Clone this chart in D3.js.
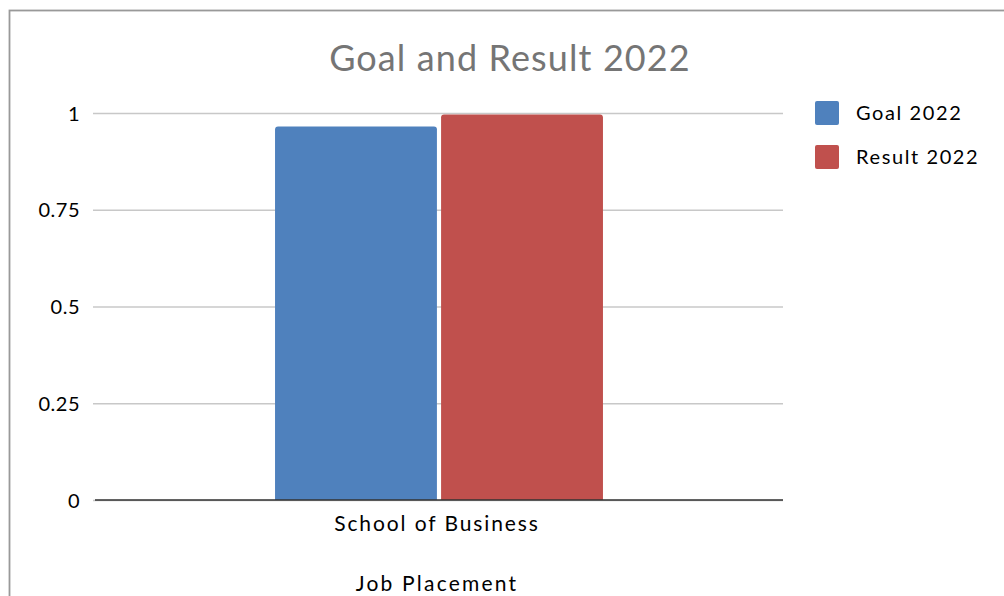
<!DOCTYPE html>
<html>
<head>
<meta charset="utf-8">
<script src="https://cdn.jsdelivr.net/npm/d3@7"></script>
<style>
  body { margin: 0; background: #fff; }
  text { font-family: Lato, "Open Sans", sans-serif; }
</style>
</head>
<body>
<div id="chart"></div>
<script>
// data
var categories = ["School of Business"];
var seriesNames = ["Goal 2022", "Result 2022"];
var goalValues = [0.965];
var resultValues = [0.996];
var yTicks = [0, 0.25, 0.5, 0.75, 1];
var colors = ["#4f81bd", "#c0504d"];

var svgWidth = 1004;
var svgHeight = 596;

var margin = { top: 113, right: 221, bottom: 96, left: 95 };
var width = svgWidth - margin.left - margin.right;
var height = svgHeight - margin.top - margin.bottom;

var svg = d3.select("#chart")
  .append("svg")
  .attr("width", svgWidth)
  .attr("height", svgHeight);

// outer frame (only top and left edges are visible)
svg.append("rect")
  .attr("x", 9.5)
  .attr("y", 10.5)
  .attr("width", 1100)
  .attr("height", 700)
  .attr("fill", "none")
  .attr("stroke", "#999")
  .attr("stroke-width", 1.8);

var chartGroup = svg.append("g")
  .attr("transform", `translate(${margin.left}, ${margin.top})`);

var x0 = d3.scaleBand()
  .domain(categories)
  .range([0, width])
  .paddingInner(0)
  .paddingOuter(0.549);

var x1 = d3.scaleBand()
  .domain(seriesNames)
  .range([0, x0.bandwidth()])
  .paddingInner(0.025);

var yScale = d3.scaleLinear()
  .domain([0, 1])
  .range([height, 0]);

// gridlines
var leftAxis = d3.axisLeft(yScale)
  .tickValues(yTicks)
  .tickSize(-width)
  .tickFormat(d => d);

var yAxisGroup = chartGroup.append("g")
  .call(leftAxis);

yAxisGroup.select(".domain").remove();
yAxisGroup.selectAll(".tick line")
  .attr("stroke", "#c8c8c8")
  .attr("stroke-width", 1.5)
  .attr("x1", -2);
yAxisGroup.selectAll(".tick text")
  .attr("x", -15)
  .attr("dy", "0.35em")
  .attr("fill", "#000")
  .style("font-size", "20px")
  .style("letter-spacing", "0.5px")
  .style("font-family", "Lato, 'Open Sans', sans-serif");

// bars
var rows = categories.map(function(c, i) {
  return { category: c, values: [goalValues[i], resultValues[i]] };
});

var groups = chartGroup.selectAll(".cat")
  .data(rows)
  .enter()
  .append("g")
  .attr("class", "cat")
  .attr("transform", d => `translate(${x0(d.category)},0)`);

groups.selectAll("path")
  .data(d => d.values.map((v, j) => ({ name: seriesNames[j], value: v, color: colors[j] })))
  .enter()
  .append("path")
  .attr("fill", d => d.color)
  .attr("d", function(d) {
    var x = x1(d.name), w = x1.bandwidth();
    var y = yScale(d.value), b = yScale(0), r = 3;
    return `M${x},${b}V${y + r}Q${x},${y} ${x + r},${y}H${x + w - r}Q${x + w},${y} ${x + w},${y + r}V${b}Z`;
  });

// baseline
chartGroup.append("line")
  .attr("x1", 0)
  .attr("x2", width)
  .attr("y1", yScale(0))
  .attr("y2", yScale(0))
  .attr("stroke", "#333")
  .attr("stroke-width", 1.5);

// category labels
chartGroup.selectAll(".catLabel")
  .data(categories)
  .enter()
  .append("text")
  .attr("x", d => x0(d) + x0.bandwidth() / 2 - 2)
  .attr("y", height + 31)
  .attr("text-anchor", "middle")
  .style("font-size", "21px")
  .style("letter-spacing", "1.9px")
  .text(d => d);

chartGroup.append("text")
  .attr("x", x0(categories[0]) + x0.bandwidth() / 2 - 2)
  .attr("y", height + 91)
  .attr("text-anchor", "middle")
  .style("font-size", "21px")
  .style("letter-spacing", "2.2px")
  .text("Job Placement");

// title
svg.append("text")
  .attr("x", 510)
  .attr("y", 71)
  .attr("text-anchor", "middle")
  .attr("fill", "#757575")
  .style("font-size", "36px")
  .style("letter-spacing", "1.1px")
  .text("Goal and Result 2022");

// legend
var legend = svg.selectAll(".legend")
  .data(seriesNames)
  .enter()
  .append("g")
  .attr("class", "legend")
  .attr("transform", (d, i) => `translate(815, ${101 + i * 44})`);

legend.append("rect")
  .attr("width", 24)
  .attr("height", 24)
  .attr("rx", 2)
  .attr("fill", (d, i) => colors[i]);

legend.append("text")
  .attr("x", 41)
  .attr("y", 12)
  .attr("dy", "0.35em")
  .style("font-size", "20px")
  .style("letter-spacing", "1.6px")
  .text(d => d);
</script>
</body>
</html>
